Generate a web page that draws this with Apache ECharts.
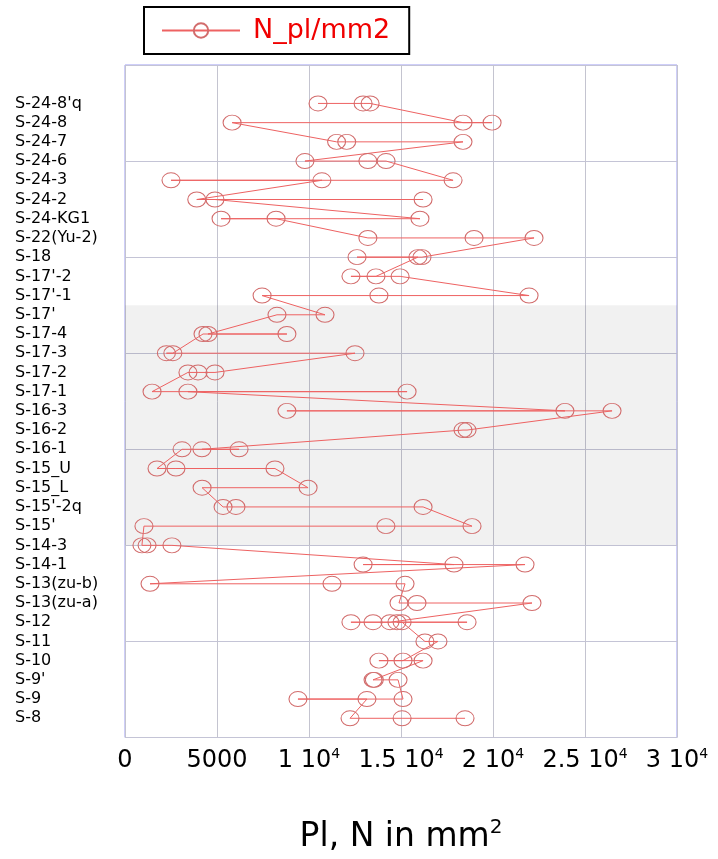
<!DOCTYPE html>
<html><head><meta charset="utf-8">
<script src="https://cdn.jsdelivr.net/npm/echarts@6/dist/echarts.min.js"></script>
<style>html,body{margin:0;padding:0;background:#fff}#c{width:718px;height:859px}</style>
</head><body><div id="c"></div>
<script>
// categories, top to bottom
const categories = ["S-24-8'q","S-24-8","S-24-7","S-24-6","S-24-3","S-24-2","S-24-KG1","S-22(Yu-2)","S-18","S-17'-2","S-17'-1","S-17'","S-17-4","S-17-3","S-17-2","S-17-1","S-16-3","S-16-2","S-16-1","S-15_U","S-15_L","S-15'-2q","S-15'","S-14-3","S-14-1","S-13(zu-b)","S-13(zu-a)","S-12","S-11","S-10","S-9'","S-9","S-8"];
// N_pl/mm2 values for each category, in drawing order
const nPl = [
  [10490, 12940, 13320],
  [18370, 19950, 5820],
  [11500, 12050, 18370],
  [9780, 13200, 14190],
  [17830, 2500, 10700],
  [3900, 16200, 4890],
  [16030, 5220, 8210],
  [13200, 18970, 22230],
  [16140, 12610, 15920],
  [13640, 12280, 14950],
  [21960, 13800, 7450],
  [10870, 8260],
  [4510, 8800, 4240],
  [2600, 2250, 12500],
  [4890, 3970, 3420],
  [1470, 15330, 3420],
  [23910, 8800, 26470],
  [18590, 18370],
  [4180, 6200, 3100],
  [1740, 2770, 8150],
  [9950, 4190],
  [5330, 6030, 16200],
  [18860, 14180, 1030],
  [920, 1200, 2550],
  [17880, 12940, 21740],
  [1360, 11250, 15220],
  [14890, 15870, 22120],
  [14400, 12280, 13480, 18590, 14780, 15060],
  [16300, 17010],
  [15110, 13800, 16200],
  [13480, 13550, 14840],
  [15110, 9400, 13150],
  [12230, 15060, 18480]
];
const xTickBase = ['0', '5000', '1 10', '1.5 10', '2 10', '2.5 10', '3 10'];
const xTickExp  = ['', '', '4', '4', '4', '4', '4'];
const seriesName = 'N_pl/mm2';
const shadedBand = [10, 22.5]; // y-range of grey band (category positions)

const n = categories.length;
const data = [];
categories.forEach((c, i) => {
  const y = n - i;
  nPl[i].forEach(v => data.push([v, y]));
});

const FONT = 'DejaVu Sans';
const chart = echarts.init(document.getElementById('c'), null, {renderer: 'canvas'});
chart.setOption({
  animation: false,
  backgroundColor: '#fff',
  grid: {left: 125, right: 41, top: 65, bottom: 119, show: true, borderColor: '#9c9cf2', borderWidth: 1, containLabel: false},
  legend: {
    data: [seriesName],
    left: 144, top: 7,
    borderColor: '#000', borderWidth: 2,
    padding: [10, 19, 10, 17],
    itemWidth: 78, itemHeight: 18,
    textStyle: {fontFamily: FONT, fontSize: 27, color: '#f00000', padding: [0, 0, 0, 8]}
  },
  xAxis: {
    type: 'value', min: 0, max: 30000, interval: 5000,
    axisLine: {show: false}, axisTick: {show: false},
    splitLine: {show: true, lineStyle: {color: '#c4c4d0', width: 1}},
    axisLabel: {
      margin: 10,
      formatter: v => {
        const i = Math.round(v / 5000);
        return '{a|' + xTickBase[i] + '}' + (xTickExp[i] ? '{s|' + xTickExp[i] + '}' : '');
      },
      rich: {
        a: {fontFamily: FONT, fontSize: 24, color: '#000', lineHeight: 27},
        s: {fontFamily: FONT, fontSize: 14, color: '#000', verticalAlign: 'top', lineHeight: 14}
      }
    },
    name: '{t|Pl, N in mm}{s|2}',
    nameLocation: 'middle', nameGap: 80,
    nameTextStyle: {
      rich: {
        t: {fontFamily: FONT, fontSize: 33, color: '#000', lineHeight: 40},
        s: {fontFamily: FONT, fontSize: 20, color: '#000', verticalAlign: 'top', lineHeight: 20}
      }
    }
  },
  yAxis: [
    {
      type: 'value', min: 0, max: 35, interval: 1,
      axisLine: {show: false}, axisTick: {show: false}, splitLine: {show: false},
      axisLabel: {
        align: 'left', margin: 110,
        fontFamily: FONT, fontSize: 16, color: '#000',
        formatter: v => (v >= 1 && v <= n) ? categories[n - v] : ''
      }
    },
    {
      type: 'value', min: 0, max: 35, interval: 5, position: 'left',
      axisLine: {show: false}, axisTick: {show: false}, axisLabel: {show: false},
      splitLine: {show: true, lineStyle: {color: '#c4c4d6', width: 1}}
    }
  ],
  series: [
    {
      type: 'line', name: '__band', data: [], z: 1, silent: true,
      markArea: {silent: true, itemStyle: {color: 'rgba(0,0,0,0.055)'}, data: [[{yAxis: shadedBand[0]}, {yAxis: shadedBand[1]}]]}
    },
    {
      type: 'line', name: seriesName, data: data, z: 3,
      symbol: 'circle', symbolSize: [18, 15],
      lineStyle: {color: '#ee6262', width: 1},
      itemStyle: {color: 'rgba(255,255,255,0)', borderColor: '#d26c6c', borderWidth: 1},
      showAllSymbol: true
    }
  ]
});
</script></body></html>
